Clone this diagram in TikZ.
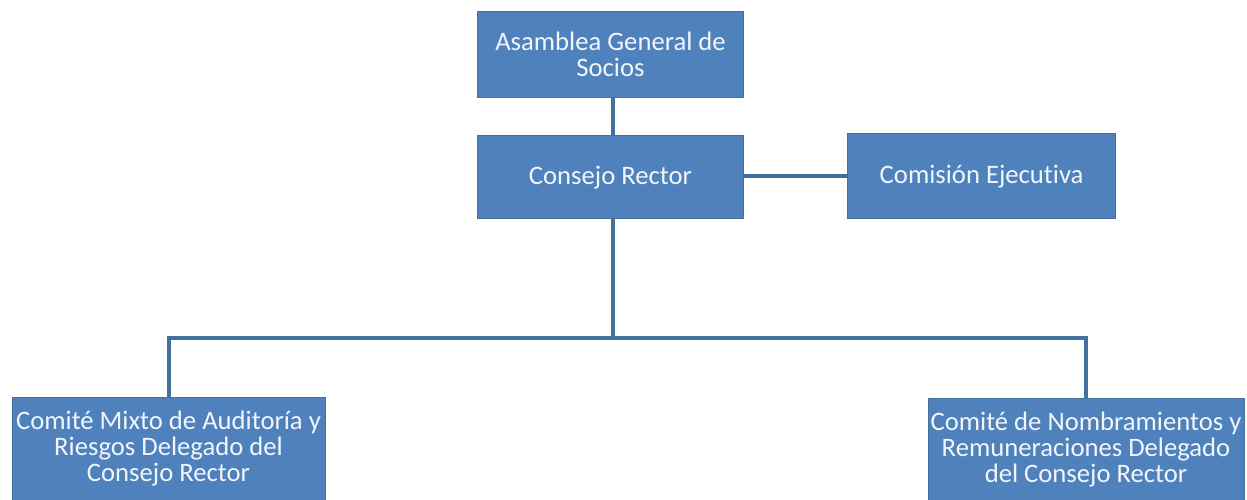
\documentclass[tikz,border=0pt]{standalone}
\usepackage{fontspec}
\setmainfont{Carlito}[Ligatures=NoCommon]
\usepackage{xcolor}
\usetikzlibrary{positioning}

\definecolor{cajaazul}{HTML}{4F81BD}
\definecolor{bordeazul}{HTML}{41719C}
\definecolor{textoclaro}{HTML}{F2F6FB}

\tikzset{
 caja/.style={draw=bordeazul,line width=0.6pt,fill=cajaazul,text=textoclaro,
 align=center,inner sep=0pt,font=\fontsize{20}{19.5}\selectfont},
 enlace/.style={draw=bordeazul,line width=3pt}
}

\begin{document}
\begin{tikzpicture}[x=0.75pt,y=-0.75pt,node distance=28.5pt]
 \useasboundingbox (0,0) rectangle (1247,500);

 \node[caja,minimum width=200pt,minimum height=64.5pt] (asamblea) at (610.5,54) {Asamblea General de\\Socios};
 \node[caja,minimum width=200pt,minimum height=62.25pt,below=of asamblea] (consejo) {Consejo Rector};
 \node[caja,minimum width=201pt,minimum height=63.75pt,right=77.25pt of consejo,yshift=0.75pt] (comision) {Comisión Ejecutiva};

 \node[caja,minimum width=234.75pt,minimum height=77.25pt,anchor=north] (auditoria) at (168.5,397)
 {Comité Mixto de Auditoría y\\Riesgos Delegado del\\Consejo Rector};
 \node[caja,minimum width=237pt,minimum height=76.5pt,anchor=north] (nombramientos) at (1086,398)
 {Comité de Nombramientos y\\Remuneraciones Delegado\\del Consejo Rector};

 \coordinate (rama) at (613,338);

 \draw[enlace] (asamblea.south -| rama) -- (consejo.north -| rama);
 \draw[enlace] (consejo.east |- comision.west) -- (comision.west);
 \draw[enlace] (consejo.south -| rama) -- (rama);
 \draw[enlace] (rama) -| (auditoria.north);
 \draw[enlace] (rama) -| (nombramientos.north);
\end{tikzpicture}
\end{document}
